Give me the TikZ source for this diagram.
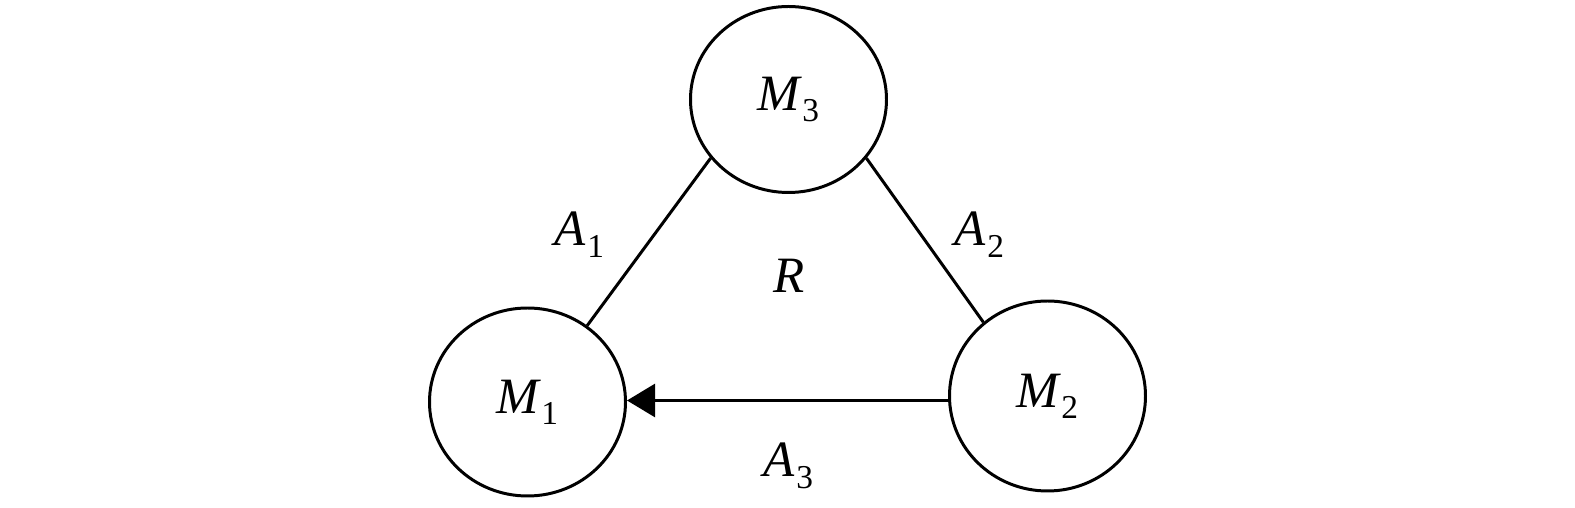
\documentclass[tikz,border=0pt]{standalone}
\usepackage{fontspec}
\setmainfont{Liberation Serif}
\usepackage{tikz}
\usetikzlibrary{arrows.meta}
\usetikzlibrary{shapes.geometric}

\newcommand{\sublbl}[2]{{\itshape #1}\kern0.6pt\raisebox{-3.2pt}{\fontsize{9.5}{10}\selectfont #2}}
\tikzset{
  massa/.style={draw,ellipse,line width=0.85pt,inner sep=0pt,
    minimum width=1.96cm,minimum height=1.88cm,font=\fontsize{14.5}{16}\selectfont},
  lato/.style={line width=0.85pt},
  etich/.style={font=\fontsize{14.5}{16}\selectfont,inner sep=0pt,anchor=base}
}

\begin{document}
\begin{tikzpicture}[scale=1]
\useasboundingbox (0,0) rectangle (15.75,5.08);
\node[massa,minimum height=1.86cm] (M3) at (7.885,4.085) {\sublbl{M}{3}};
\node[massa] (M1) at (5.275,1.06) {\sublbl{M}{1}};
\node[massa,minimum height=1.90cm] (M2) at (10.475,1.12) {\sublbl{M}{2}};
\draw[lato] (M3.217) -- (M1.52);
\draw[lato] (M3.323) -- (M2.131);
\draw[lato,-{Triangle[length=8pt,width=9.4pt]}] (M2.west |- 0,1.075) -- (M1.east |- 0,1.075);
\node[etich] (A1) at (5.79,2.62) {\sublbl{A}{1}};
\node[etich] (A2) at (9.79,2.62) {\sublbl{A}{2}};
\node[etich] (R) at (7.89,2.15) {\itshape R};
\node[etich] (A3) at (7.88,0.31) {\sublbl{A}{3}};
\end{tikzpicture}
\end{document}
